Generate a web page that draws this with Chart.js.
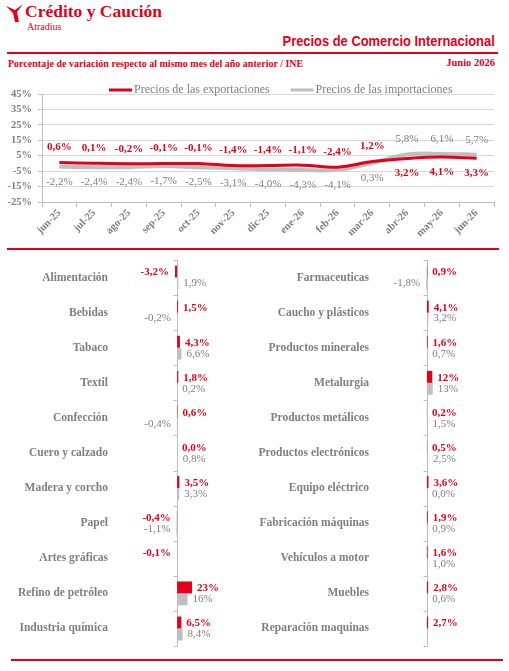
<!DOCTYPE html>
<html lang="es">
<head>
<meta charset="utf-8">
<title>Precios de Comercio Internacional</title>
<script src="https://cdn.jsdelivr.net/npm/chart.js@4.4.1/dist/chart.umd.min.js"></script>
<style>
  html, body { margin: 0; padding: 0; background: #fff; }
  #page { position: relative; width: 509px; height: 671px; overflow: hidden; font-family: "Liberation Serif", serif; }
  .abs { position: absolute; white-space: nowrap; }
  #logo { left: 5px; top: 3px; }
  #brand { left: 25px; top: 1px; font-size: 17.5px; font-weight: bold; color: #e2001a; line-height: 20px; }
  #atradius { left: 27px; top: 21px; font-size: 10px; color: #e2001a; line-height: 12px; }
  #title { right: 14px; top: 32px; font-family: "Liberation Sans", sans-serif; font-size: 15px; font-weight: bold;
           color: #e2001a; line-height: 18px; transform: scaleX(0.86); transform-origin: right center; }
  .rule { background: #e2001a; height: 2px; }
  #subtitle { left: 8px; top: 58px; font-size: 10px; font-weight: bold; color: #e2001a; line-height: 12px; }
  #date { right: 14px; top: 57px; font-size: 10.5px; font-weight: bold; color: #e2001a; line-height: 12px; }
  canvas { position: absolute; }
</style>
</head>
<body>
<div id="page">
  <svg id="logo" class="abs" width="20" height="20" viewBox="0 0 20 20">
    <polygon points="1,3 10,7 18,1 12,9 14,19 10,19 8,10" fill="#e2001a"/>
  </svg>
  <div id="brand" class="abs">Crédito y Caución</div>
  <div id="atradius" class="abs">Atradius</div>
  <div id="title" class="abs">Precios de Comercio Internacional</div>
  <div class="abs rule" style="left:7px; top:52px; width:491px;"></div>
  <div id="subtitle" class="abs">Porcentaje de variación respecto al mismo mes del año anterior / INE</div>
  <div id="date" class="abs">Junio 2026</div>

  <canvas id="lineChart" width="509" height="172" style="left:0; top:78px;"></canvas>
  <div class="abs rule" style="left:7px; top:248px; width:492px;"></div>

  <canvas id="barLeft" width="252" height="395" style="left:0; top:255px;"></canvas>
  <canvas id="barRight" width="255" height="395" style="left:254px; top:255px;"></canvas>
  <div class="abs rule" style="left:11px; top:659px; width:492px;"></div>
</div>

<script>
// ── Data ───────────────────────────────────────────────────────────────
const months       = ['jun-25','jul-25','ago-25','sep-25','oct-25','nov-25','dic-25',
                      'ene-26','feb-26','mar-26','abr-26','may-26','jun-26'];
const exportPrices = [0.6, 0.1, -0.2, -0.1, -0.1, -1.4, -1.4, -1.1, -2.4, 1.2, 3.2, 4.1, 3.3];
const importPrices = [-2.2, -2.4, -2.4, -1.7, -2.5, -3.1, -4.0, -4.3, -4.1, 0.3, 5.8, 6.1, 5.7];
const yTicksLine   = [-25, -15, -5, 5, 15, 25, 35, 45];

const sectorsLeft  = ['Alimentación','Bebidas','Tabaco','Textil','Confección','Cuero y calzado',
                      'Madera y corcho','Papel','Artes gráficas','Refino de petróleo','Industria química'];
const exportsLeft  = [-3.2, 1.5, 4.3, 1.8, 0.6, 0.0, 3.5, -0.4, -0.1, 23, 6.5];
const importsLeft  = [1.9, -0.2, 6.6, 0.2, -0.4, 0.8, 3.3, -1.1, null, 16, 8.4];

const sectorsRight = ['Farmaceuticas','Caucho y plásticos','Productos minerales','Metalurgia',
                      'Productos metálicos','Productos electrónicos','Equipo eléctrico',
                      'Fabricación máquinas','Vehículos a motor','Muebles','Reparación maquinas'];
const exportsRight = [0.9, 4.1, 1.6, 12, 0.2, 0.5, 3.6, 1.9, 1.6, 2.8, 2.7];
const importsRight = [-1.8, 3.2, 0.7, 13, 1.5, 2.5, 0.0, 0.9, 1.0, 0.6, null];

// ── Style ──────────────────────────────────────────────────────────────
const RED      = '#e2001a';
const GREY_TXT = '#7f7f7f';
const GREY     = '#bfbfbf';
const GRID     = '#d9d9d9';
const SERIF    = '"Liberation Serif", serif';

const pct = v => (Number.isInteger(v) && Math.abs(v) >= 10 ? String(v) : v.toFixed(1).replace('.', ',')) + '%';

// ── Plugins ────────────────────────────────────────────────────────────
const lineLabels = {
  id: 'lineLabels',
  afterDatasetsDraw(chart) {
    const { ctx } = chart;
    const [exp, imp] = chart.data.datasets;
    ctx.save();
    ctx.textAlign = 'center';
    ctx.textBaseline = 'middle';
    chart.data.datasets.forEach((ds, di) => {
      chart.getDatasetMeta(di).data.forEach((pt, i) => {
        const other = di === 0 ? imp.data[i] : exp.data[i];
        const up = ds.data[i] >= other;
        ctx.font = (di === 0 ? 'bold ' : '') + '11px ' + SERIF;
        ctx.fillStyle = di === 0 ? RED : GREY_TXT;
        ctx.fillText(pct(ds.data[i]), pt.x, pt.y + (up ? -15 : 15));
      });
    });
    ctx.restore();
  }
};

const topLegend = {
  id: 'topLegend',
  afterDraw(chart) {
    const { ctx, chartArea } = chart;
    const y = chartArea.top - 4;
    let x = chartArea.left + 67;
    ctx.save();
    ctx.font = '12px ' + SERIF;
    ctx.textBaseline = 'middle';
    chart.data.datasets.forEach(ds => {
      ctx.fillStyle = ds.borderColor;
      ctx.fillRect(x, y - 1.5, 23, 3);
      x += 25;
      ctx.fillStyle = GREY_TXT;
      ctx.fillText(ds.label, x, y);
      x += ctx.measureText(ds.label).width + 21;
    });
    ctx.restore();
  }
};

const zeroAxis = {
  id: 'zeroAxis',
  beforeDatasetsDraw(chart) {
    const { ctx, scales: { x, y } } = chart;
    const x0 = Math.round(x.getPixelForValue(0)) + 0.5;
    const step = y.getPixelForTick(1) - y.getPixelForTick(0);
    const top = y.getPixelForTick(0) - step / 2;
    ctx.save();
    ctx.strokeStyle = GREY;
    ctx.lineWidth = 1;
    ctx.beginPath();
    ctx.moveTo(x0, top);
    ctx.lineTo(x0, top + step * y.ticks.length);
    for (let i = 0; i <= y.ticks.length; i++) {
      const yy = Math.round(top + step * i) + 0.5;
      ctx.moveTo(x0 - 4, yy);
      ctx.lineTo(x0, yy);
    }
    ctx.stroke();
    ctx.restore();
  }
};

const barLabels = {
  id: 'barLabels',
  afterDatasetsDraw(chart) {
    const { ctx } = chart;
    ctx.save();
    ctx.textBaseline = 'middle';
    chart.data.datasets.forEach((ds, di) => {
      chart.getDatasetMeta(di).data.forEach((bar, i) => {
        const v = ds.data[i];
        if (v === null) return;
        const neg = v < 0;
        ctx.font = (di === 0 ? 'bold ' : '') + '11px ' + SERIF;
        ctx.fillStyle = di === 0 ? RED : GREY_TXT;
        ctx.textAlign = neg ? 'right' : 'left';
        ctx.fillText(pct(v), bar.x + (neg ? -6 : 5), bar.y + (di === 0 ? 1 : 0));
      });
    });
    ctx.restore();
  }
};

// ── Line chart ─────────────────────────────────────────────────────────
new Chart(document.getElementById('lineChart'), {
  type: 'line',
  data: {
    labels: months,
    datasets: [
      { label: 'Precios de las exportaciones', data: exportPrices, borderColor: RED,
        borderWidth: 3, pointRadius: 0, tension: 0.4 },
      { label: 'Precios de las importaciones', data: importPrices, borderColor: GREY,
        borderWidth: 4, pointRadius: 0, tension: 0.4 }
    ]
  },
  options: {
    responsive: false,
    animation: false,
    layout: { padding: { top: 16, right: 15, left: 0, bottom: 0 } },
    plugins: { legend: { display: false }, tooltip: { enabled: false } },
    scales: {
      x: {
        offset: true,
        afterFit: s => { s.height = 48; },
        grid: { offset: true, drawOnChartArea: false, tickLength: 5, color: GREY },
        border: { color: GREY },
        ticks: { minRotation: 45, maxRotation: 45, padding: 0, color: GREY_TXT,
                 font: { family: SERIF, size: 10.5, weight: 'bold' } }
      },
      y: {
        min: yTicksLine[0],
        max: yTicksLine[yTicksLine.length - 1],
        afterFit: s => { s.width = 42; },
        afterBuildTicks: s => { s.ticks = yTicksLine.map(v => ({ value: v })); },
        grid: { color: GRID, tickColor: GREY, tickLength: 4 },
        border: { color: GREY },
        ticks: { autoSkip: false, padding: 6, color: GREY_TXT, callback: v => v + '%',
                 font: { family: SERIF, size: 10.5, weight: 'bold' } }
      }
    }
  },
  plugins: [lineLabels, topLegend]
});

// ── Sector bar charts ──────────────────────────────────────────────────
function sectorChart(id, labels, exp, imp, min, max, labelWidth, padRight) {
  return new Chart(document.getElementById(id), {
    type: 'bar',
    data: {
      labels,
      datasets: [
        { data: exp, backgroundColor: RED, categoryPercentage: 0.68, barPercentage: 1 },
        { data: imp, backgroundColor: GREY, categoryPercentage: 0.68, barPercentage: 1 }
      ]
    },
    options: {
      indexAxis: 'y',
      responsive: false,
      animation: false,
      layout: { padding: { top: 5, bottom: 4, left: 0, right: padRight } },
      plugins: { legend: { display: false }, tooltip: { enabled: false } },
      scales: {
        x: { display: false, min, max },
        y: {
          afterFit: s => { s.width = labelWidth; s.paddingTop = 0; s.paddingBottom = 0; },
          grid: { display: false, drawTicks: false },
          border: { display: false },
          ticks: { padding: 4, color: GREY_TXT, font: { family: SERIF, size: 11.5, weight: 'bold' } }
        }
      }
    },
    plugins: [zeroAxis, barLabels]
  });
}

sectorChart('barLeft',  sectorsLeft,  exportsLeft,  importsLeft,  -100, 115, 112, 0);
sectorChart('barRight', sectorsRight, exportsRight, importsRight, -120, 165, 119, 8);
</script>
</body>
</html>
